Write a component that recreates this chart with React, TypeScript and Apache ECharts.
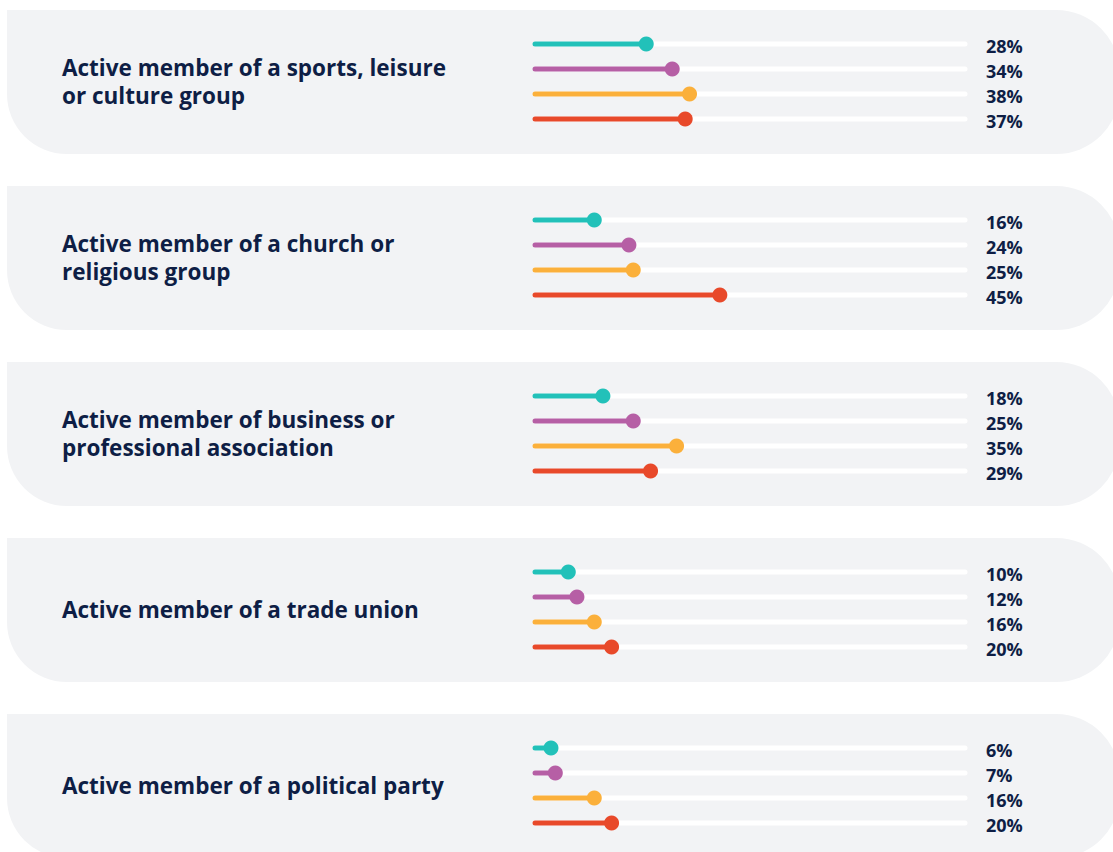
import React, { useEffect, useRef } from "react";
import * as echarts from "echarts";

const categories = [
  "Active member of a sports, leisure\nor culture group",
  "Active member of a church or\nreligious group",
  "Active member of business or\nprofessional association",
  "Active member of a trade union",
  "Active member of a political party",
];

const seriesNames = ["Group A", "Group B", "Group C", "Group D"];
const teal = [28, 16, 18, 10, 6];
const purple = [34, 24, 25, 12, 7];
const orange = [38, 25, 35, 16, 16];
const red = [37, 45, 29, 20, 20];
const colors = ["#22c1b9", "#b65fa5", "#fbb03b", "#e8492a"];

const PANEL_TOP = 10;
const PANEL_STEP = 176;
const PANEL_H = 144;
const NAVY = "#0e1e45";

export default function App() {
  const ref = useRef<HTMLDivElement>(null);
  useEffect(() => {
    document.body.style.margin = "0";
    const chart = echarts.init(ref.current!, null, { renderer: "svg" });
    const all = [teal, purple, orange, red];
    const grids: any[] = [];
    const xAxes: any[] = [];
    const yAxes: any[] = [];
    const series: any[] = [];
    const graphics: any[] = [];
    categories.forEach((cat, i) => {
      const top = PANEL_TOP + PANEL_STEP * i;
      graphics.push({
        type: "rect",
        silent: true,
        z: -10,
        shape: { x: 7, y: top, width: 1113, height: PANEL_H, r: [0, 64, 64, 60] },
        style: { fill: "#f2f3f5" },
      });
      graphics.push({
        type: "text",
        silent: true,
        x: 62,
        y: top + 71,
        style: {
          text: cat,
          fill: NAVY,
          font: "bold 22.5px 'Open Sans'",
          lineHeight: 28,
          verticalAlign: "middle",
          align: "left",
        },
      });
      grids.push({ left: 525, width: 433, top: top + 21.5, height: 100 });
      xAxes.push({ type: "value", gridIndex: i, min: 0, max: 100, show: false });
      yAxes.push({
        type: "category",
        gridIndex: i,
        inverse: true,
        data: seriesNames,
        show: false,
      });
      series.push({
        type: "custom",
        xAxisIndex: i,
        yAxisIndex: i,
        data: all.map((arr, k) => [arr[i], k]),
        renderItem: (params: any, api: any) => {
          const v = api.value(0);
          const k = api.value(1);
          const [xv, y] = api.coord([v, k]);
          const x0 = api.coord([0, k])[0] + 10;
          const x100 = api.coord([100, k])[0];
          const c = colors[k];
          return {
            type: "group",
            children: [
              {
                type: "line",
                shape: { x1: x0, y1: y, x2: x100 + 7, y2: y },
                style: { stroke: "#ffffff", lineWidth: 5, lineCap: "round" },
              },
              {
                type: "line",
                shape: { x1: x0, y1: y, x2: xv, y2: y },
                style: { stroke: c, lineWidth: 5, lineCap: "round" },
              },
              {
                type: "circle",
                shape: { cx: xv, cy: y, r: 7.5 },
                style: { fill: c },
              },
              {
                type: "text",
                x: x100 + 28,
                y: y + 2,
                style: {
                  text: v + "%",
                  fill: NAVY,
                  font: "bold 18px 'Open Sans'",
                  verticalAlign: "middle",
                  align: "left",
                },
              },
            ],
          };
        },
      });
    });
    chart.setOption({
      animation: false,
      grid: grids,
      xAxis: xAxes,
      yAxis: yAxes,
      series,
      graphic: graphics,
    });
    return () => chart.dispose();
  }, []);
  return <div ref={ref} style={{ width: 1113, height: 852 }} />;
}
